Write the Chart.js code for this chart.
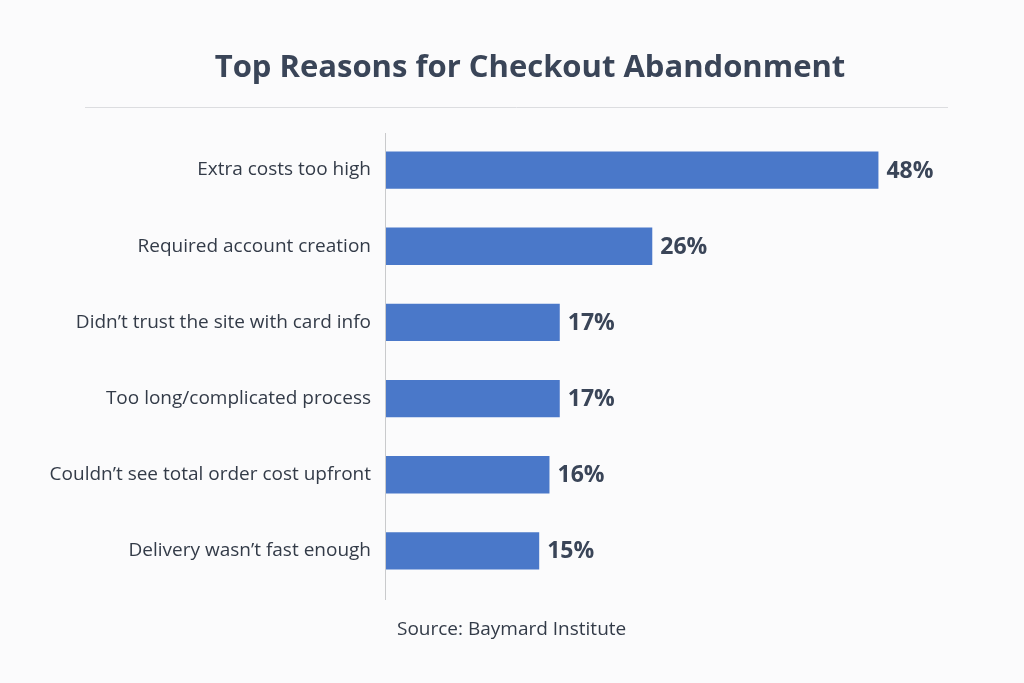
<!DOCTYPE html>
<html><head><meta charset="utf-8">
<script src="https://cdn.jsdelivr.net/npm/chart.js@4/dist/chart.umd.min.js"></script>
<style>html,body{margin:0;background:#fbfbfc}#wrap{width:1024px;height:683px}</style>
</head><body><div id="wrap"><canvas id="c"></canvas></div>
<script>
// data
const reasons = ['Extra costs too high', 'Required account creation', 'Didn\u2019t trust the site with card info',
  'Too long/complicated process', 'Couldn\u2019t see total order cost upfront', 'Delivery wasn\u2019t fast enough'];
const shares = [48, 26, 17, 17, 16, 15];
const titleText = 'Top Reasons for Checkout Abandonment';
const sourceText = 'Source: Baymard Institute';

const ink = '#3a4558';

// title, rule, axis line, value labels, source
const decor = {
  id: 'decor',
  afterDatasetsDraw(chart) {
    const ctx = chart.ctx, a = chart.chartArea;
    ctx.save();
    ctx.fillStyle = ink;
    ctx.textAlign = 'center'; ctx.textBaseline = 'middle';
    ctx.font = 'bold 31px "Open Sans", sans-serif';
    ctx.fillText(titleText, 530, 68);
    ctx.strokeStyle = '#dcdde0'; ctx.lineWidth = 1;
    ctx.beginPath(); ctx.moveTo(85, 107.5); ctx.lineTo(948, 107.5); ctx.stroke();
    ctx.strokeStyle = '#c9cacc';
    ctx.beginPath(); ctx.moveTo(a.left + 0.5, 133); ctx.lineTo(a.left + 0.5, 600); ctx.stroke();
    const meta = chart.getDatasetMeta(0);
    ctx.textAlign = 'left';
    ctx.font = 'bold 23px "Open Sans", sans-serif';
    meta.data.forEach((bar, i) => ctx.fillText(shares[i] + '%', bar.x + 8, bar.y + 1));
    ctx.font = '19px "Open Sans", sans-serif';
    ctx.fillStyle = '#333b48';
    ctx.fillText(sourceText, 397, 630);
    ctx.restore();
  }
};

new Chart(document.getElementById('c'), {
  type: 'bar',
  data: { labels: reasons, datasets: [{ data: shares, backgroundColor: '#4a78c9',
    categoryPercentage: 0.49, barPercentage: 1 }] },
  options: {
    indexAxis: 'y', responsive: true, maintainAspectRatio: false, animation: false,
    layout: { padding: { top: 132, bottom: 94, left: 0, right: 125 } },
    plugins: { legend: { display: false }, tooltip: { enabled: false } },
    scales: {
      x: { min: 0, max: 50, display: false },
      y: {
        afterFit: s => { s.width = 385; },
        grid: { display: false }, border: { display: false },
        ticks: { color: '#333b48', padding: 6, font: { size: 19, family: '"Open Sans", sans-serif' } }
      }
    }
  },
  plugins: [decor]
});
</script></body></html>
